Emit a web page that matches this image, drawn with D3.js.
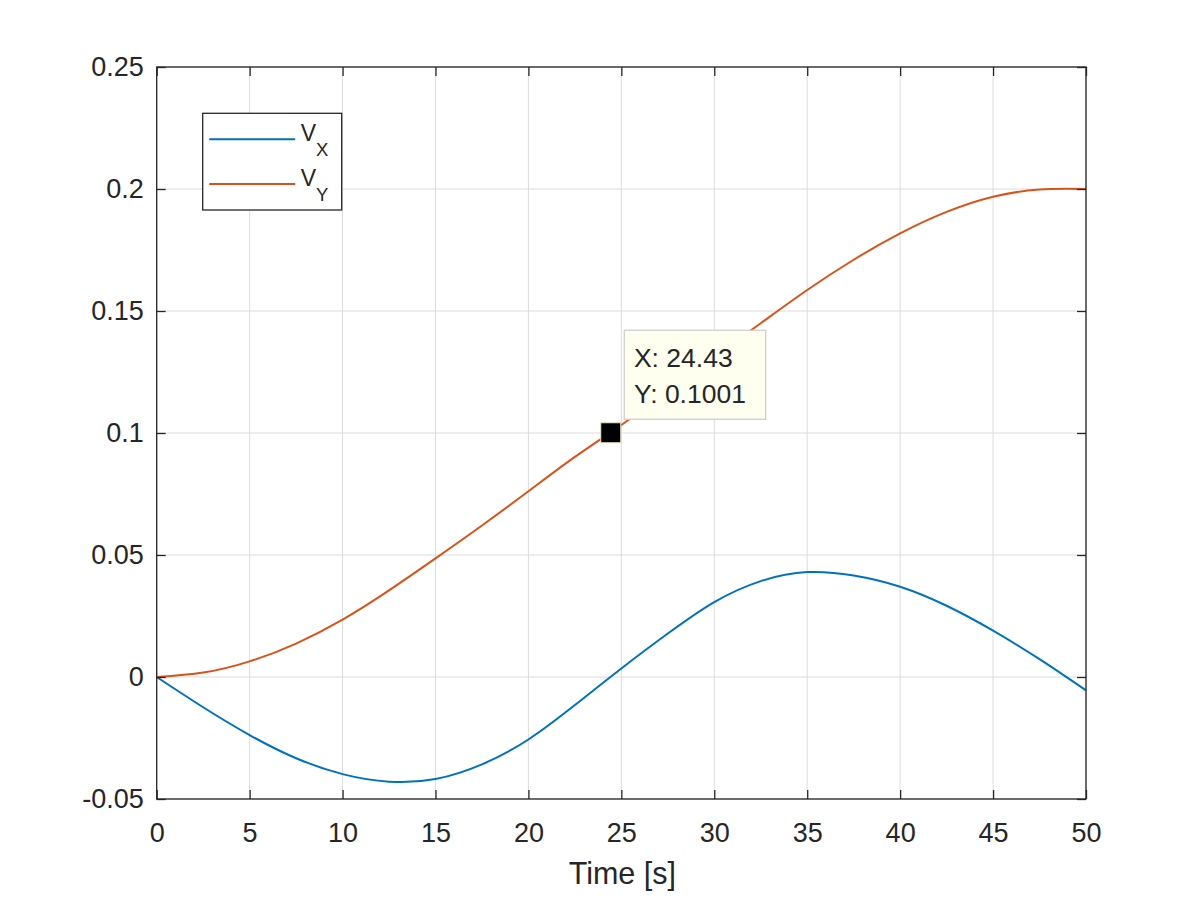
<!DOCTYPE html>
<html>
<head>
<meta charset="utf-8">
<script src="https://cdn.jsdelivr.net/npm/d3@7"></script>
<style>
  html, body { margin: 0; padding: 0; background: #fff; }
  svg text { font-family: "Liberation Sans", Arial, sans-serif; fill: #262626; }
</style>
</head>
<body>
<div id="chart"></div>
<script>
// time samples [s]
const time = [0, 2.5, 5, 7.5, 10, 12.5, 15, 17.5, 20, 22.5, 25, 27.5, 30, 32.5, 35, 37.5, 40, 42.5, 45, 47.5, 50];
// V_X
const vx = [0, -0.0124, -0.0238, -0.0333, -0.0398, -0.0429, -0.0418, -0.0358, -0.0256, -0.0115, 0.0035,
  0.0178, 0.0307, 0.0393, 0.0430, 0.0416, 0.0370, 0.0292, 0.0190, 0.0073, -0.0055];
// V_Y
const vy = [0, 0.0018, 0.0064, 0.0137, 0.0235, 0.0355, 0.0486, 0.0621, 0.0761, 0.0902, 0.1033,
  0.1173, 0.1313, 0.1450, 0.1586, 0.1710, 0.1818, 0.1906, 0.1968, 0.1998, 0.2000];

const xTicks = [0, 5, 10, 15, 20, 25, 30, 35, 40, 45, 50];
const yTicks = [-0.05, 0, 0.05, 0.1, 0.15, 0.2, 0.25];
const yTickLabels = ["-0.05", "0", "0.05", "0.1", "0.15", "0.2", "0.25"];

// data tip
const tipPoint = { t: 24.43, v: 0.1001 };
const tipLines = ["X: 24.43", "Y: 0.1001"];

const seriesNames = ["X", "Y"];
const colors = ["#0072BD", "#D95319"];

const W = 1200, H = 900;
const plot = { left: 156.7, right: 1086, top: 67, bottom: 799 };

const svg = d3.select("#chart").append("svg")
  .attr("width", W).attr("height", H);

const x = d3.scaleLinear().domain([0, 50]).range([plot.left, plot.right]);
const y = d3.scaleLinear().domain([-0.05, 0.25]).range([plot.bottom, plot.top]);

// grid
const grid = svg.append("g").attr("stroke", "#dcdcdc").attr("stroke-width", 1);
grid.selectAll(".gx").data(xTicks).enter().append("line")
  .attr("x1", d => x(d)).attr("x2", d => x(d))
  .attr("y1", plot.top).attr("y2", plot.bottom);
grid.selectAll(".gy").data(yTicks).enter().append("line")
  .attr("y1", d => y(d)).attr("y2", d => y(d))
  .attr("x1", plot.left).attr("x2", plot.right);

// lines
const series = [vx, vy].map(vals => time.map((t, i) => ({ t, v: vals[i] })));
const line = d3.line().x(d => x(d.t)).y(d => y(d.v)).curve(d3.curveNatural);
svg.append("g").selectAll("path").data(series).enter().append("path")
  .attr("d", line)
  .attr("fill", "none")
  .attr("stroke", (d, i) => colors[i])
  .attr("stroke-width", 2);

// axes, MATLAB style box with inward ticks
const tickLen = 9;
const axisColor = "#262626";
const bottomAxis = svg.append("g").attr("transform", `translate(0,${plot.bottom})`)
  .call(d3.axisBottom(x).tickValues(xTicks).tickSizeInner(-tickLen).tickSizeOuter(0));
const topAxis = svg.append("g").attr("transform", `translate(0,${plot.top})`)
  .call(d3.axisTop(x).tickValues(xTicks).tickSizeInner(-tickLen).tickSizeOuter(0).tickFormat(""));
const leftAxis = svg.append("g").attr("transform", `translate(${plot.left},0)`)
  .call(d3.axisLeft(y).tickValues(yTicks).tickSizeInner(-tickLen).tickSizeOuter(0).tickPadding(13)
    .tickFormat((d, i) => yTickLabels[i]));
const rightAxis = svg.append("g").attr("transform", `translate(${plot.right},0)`)
  .call(d3.axisRight(y).tickValues(yTicks).tickSizeInner(-tickLen).tickSizeOuter(0).tickFormat(""));

[bottomAxis, topAxis, leftAxis, rightAxis].forEach(a => {
  a.select(".domain").remove();
  a.selectAll(".tick line").attr("stroke", axisColor).attr("stroke-width", 1.3);
  a.selectAll("text").attr("font-size", 27).attr("fill", axisColor)
    .style("font-family", "'Liberation Sans', Arial, sans-serif");
});
bottomAxis.selectAll("text").attr("dy", null).attr("y", 43);

svg.append("rect")
  .attr("x", plot.left).attr("y", plot.top)
  .attr("width", plot.right - plot.left).attr("height", plot.bottom - plot.top)
  .attr("fill", "none").attr("stroke", axisColor).attr("stroke-width", 1.3);

// x label
svg.append("text")
  .attr("x", (plot.left + plot.right) / 2 + 1).attr("y", 884)
  .attr("text-anchor", "middle").attr("font-size", 30.5)
  .text("Time [s]");

// legend
const legend = svg.append("g").attr("transform", "translate(202.7,113.3)");
legend.append("rect").attr("width", 139).attr("height", 96.7)
  .attr("fill", "#fff").attr("stroke", axisColor).attr("stroke-width", 1.3);
const items = legend.selectAll(".item").data(seriesNames).enter().append("g")
  .attr("transform", (d, i) => `translate(0,${26 + i * 44.7})`);
items.append("line").attr("x1", 6.5).attr("x2", 92.5)
  .attr("stroke", (d, i) => colors[i]).attr("stroke-width", 2);
const lt = items.append("text").attr("x", 98).attr("y", 1.5).attr("font-size", 23);
lt.append("tspan").text("V");
lt.append("tspan").attr("dy", 15).attr("font-size", 18.5).text(d => d);

// data tip marker and box
const mx = x(tipPoint.t), my = y(tipPoint.v);
svg.append("rect")
  .attr("x", mx - 10).attr("y", my - 10).attr("width", 20).attr("height", 20)
  .attr("fill", "#000").attr("stroke", "#e8e4c0").attr("stroke-width", 1);
const tip = svg.append("g").attr("transform", `translate(${mx + 13.5},${my - 102.5})`);
tip.append("rect").attr("width", 141.4).attr("height", 89)
  .attr("fill", "#ffffef").attr("stroke", "#cfcfcf").attr("stroke-width", 1.3);
tip.selectAll("text").data(tipLines).enter().append("text")
  .attr("x", 9.7).attr("y", (d, i) => 37 + i * 36)
  .attr("font-size", 26.5).attr("fill", "#1a1a1a")
  .text(d => d);
</script>
</body>
</html>
